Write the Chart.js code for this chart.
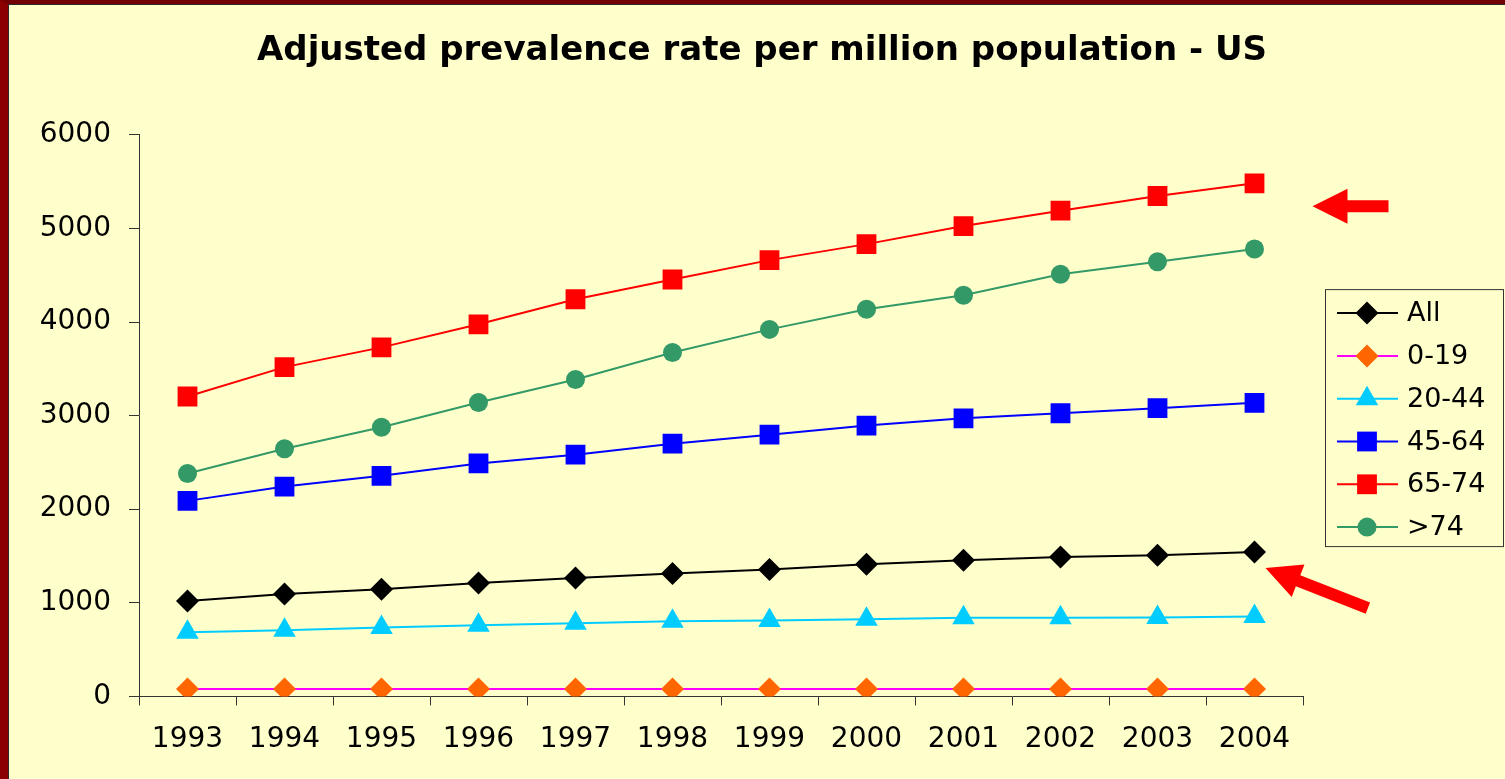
<!DOCTYPE html>
<html>
<head>
<meta charset="utf-8">
<title>Adjusted prevalence rate per million population - US</title>
<script src="https://cdn.jsdelivr.net/npm/chart.js@4.4.1/dist/chart.umd.min.js"></script>
<style>
    html, body {
        margin: 0;
        padding: 0;
        overflow: hidden;
        background: #FFFFCC;
    }
    #frame {
        position: absolute;
        left: 0;
        top: 0;
        width: 1505px;
        height: 779px;
        box-sizing: border-box;
        border-left: 8px solid #8B0000;
        border-top: 4px solid #720000;
    }
    #inner {
        width: 1497px;
        height: 775px;
        box-sizing: border-box;
        border-left: 1px solid #2b2b2b;
        border-top: 1px solid #2b2b2b;
        background: #FFFFCC;
    }
    #box {
        position: relative;
        width: 1496px;
        height: 774px;
    }
</style>
</head>
<body>
<div id="frame"><div id="inner"><div id="box"><canvas id="PrevalenceChart"></canvas></div></div></div>
<script>
const years = ["1993", "1994", "1995", "1996", "1997", "1998", "1999", "2000", "2001", "2002", "2003", "2004"];
const allAges = [1018, 1093, 1146, 1211, 1264, 1314, 1357, 1411, 1454, 1489, 1507, 1543];
const age0to19 = [80, 80, 80, 80, 80, 80, 80, 80, 80, 80, 80, 80];
const age20to44 = [686, 707, 736, 761, 782, 804, 811, 825, 839, 839, 843, 854];
const age45to64 = [2089, 2242, 2357, 2489, 2582, 2700, 2796, 2893, 2971, 3025, 3079, 3136];
const age65to74 = [3204, 3518, 3729, 3975, 4243, 4454, 4661, 4832, 5025, 5189, 5346, 5482];
const age75up = [2382, 2646, 2875, 3139, 3386, 3675, 3921, 4136, 4286, 4511, 4643, 4779];
const yTicks = [0, 1000, 2000, 3000, 4000, 5000, 6000];

const FONT = "'DejaVu Sans', 'Liberation Sans', Arial, sans-serif";

function series(label, data, lineColor, markerColor, pointStyle, radius) {
    return {
        label: label,
        data: data,
        borderColor: lineColor,
        backgroundColor: markerColor,
        borderWidth: 2,
        pointStyle: pointStyle,
        pointRadius: radius,
        pointHoverRadius: radius,
        pointBackgroundColor: markerColor,
        pointBorderColor: markerColor,
        pointBorderWidth: 0,
        fill: false,
        tension: 0,
    };
}

// legend drawn by hand: line with the marker on it, inside a thin box
const lineLegend = {
    id: "lineLegend",
    afterDraw(chart) {
        const ctx = chart.ctx;
        const area = chart.chartArea;
        const left = area.right + 22;
        const right = chart.width - 2;
        const height = 257;
        const top = (area.top + area.bottom) / 2 - height / 2 + 2;
        const step = 42.8;

        ctx.save();
        ctx.strokeStyle = "#333";
        ctx.lineWidth = 1;
        ctx.strokeRect(left + 0.5, top + 0.5, right - left, height);

        ctx.font = "27px " + FONT;
        ctx.textBaseline = "middle";
        ctx.textAlign = "left";

        chart.data.datasets.forEach((ds, i) => {
            const y = top + 24 + i * step;
            ctx.strokeStyle = ds.borderColor;
            ctx.lineWidth = 2;
            ctx.beginPath();
            ctx.moveTo(left + 12, y);
            ctx.lineTo(left + 73, y);
            ctx.stroke();

            ctx.fillStyle = ds.pointBackgroundColor;
            Chart.helpers.drawPoint(ctx, {
                pointStyle: ds.pointStyle,
                radius: ds.pointRadius,
                rotation: 0,
                borderWidth: 0,
            }, left + 42, y);

            ctx.fillStyle = "#000";
            ctx.fillText(ds.label, left + 82, y + 1);
        });
        ctx.restore();
    },
};

// the two red arrows, placed next to the last point of a series
function drawArrow(ctx, tipX, tipY, angle, length) {
    const headLen = 35, headHalf = 17.5, shaftHalf = 6;
    ctx.save();
    ctx.translate(tipX, tipY);
    ctx.rotate(angle);
    ctx.fillStyle = "#FF0000";
    ctx.beginPath();
    ctx.moveTo(0, 0);
    ctx.lineTo(headLen, -headHalf);
    ctx.lineTo(headLen, -shaftHalf);
    ctx.lineTo(length, -shaftHalf);
    ctx.lineTo(length, shaftHalf);
    ctx.lineTo(headLen, shaftHalf);
    ctx.lineTo(headLen, headHalf);
    ctx.closePath();
    ctx.fill();
    ctx.restore();
}

const arrows = {
    id: "arrows",
    afterDatasetsDraw(chart) {
        const ctx = chart.ctx;
        const last = years.length - 1;
        const top = chart.getDatasetMeta(4).data[last];
        const all = chart.getDatasetMeta(0).data[last];
        drawArrow(ctx, top.x + 58, top.y + 23, 0, 76);
        drawArrow(ctx, all.x + 11, all.y + 16, Math.atan2(40, 102), 110);
    },
};

function PrevalenceChart() {
    const ctx = document.getElementById("PrevalenceChart");

    new Chart(ctx, {
        type: "line",
        data: {
            labels: years,
            datasets: [
                series("All", allAges, "#000000", "#000000", "rectRot", 11.5),
                series("0-19", age0to19, "#FF00FF", "#FF6600", "rectRot", 11.5),
                series("20-44", age20to44, "#00CCFF", "#00CCFF", "triangle", 13),
                series("45-64", age45to64, "#0000FF", "#0000FF", "rect", 14),
                series("65-74", age65to74, "#FF0000", "#FF0000", "rect", 14),
                series(">74", age75up, "#339966", "#339966", "circle", 9.5),
            ],
        },
        options: {
            responsive: true,
            maintainAspectRatio: false,
            animation: false,
            layout: {
                padding: { left: 10, right: 0, top: 0, bottom: 4 },
            },
            plugins: {
                legend: { display: false },
                tooltip: { enabled: false },
                title: {
                    display: true,
                    text: "Adjusted prevalence rate per million population - US",
                    color: "#000",
                    font: { family: FONT, size: 34, weight: "bold" },
                    padding: { top: 26, bottom: 63 },
                },
            },
            scales: {
                x: {
                    offset: true,
                    grid: {
                        display: true,
                        drawOnChartArea: false,
                        drawTicks: true,
                        tickLength: 9,
                        color: "#333",
                        offset: true,
                    },
                    border: { display: true, color: "#333", width: 1 },
                    ticks: {
                        color: "#000",
                        font: { family: FONT, size: 28 },
                        padding: 18,
                        maxRotation: 0,
                        autoSkip: false,
                    },
                },
                y: {
                    min: 0,
                    max: 6000,
                    afterBuildTicks(scale) {
                        scale.ticks = yTicks.map((v) => ({ value: v }));
                    },
                    afterFit(scale) {
                        scale.width = 120;
                    },
                    grid: {
                        display: true,
                        drawOnChartArea: false,
                        drawTicks: true,
                        tickLength: 10,
                        color: "#333",
                    },
                    border: { display: true, color: "#333", width: 1 },
                    ticks: {
                        color: "#000",
                        font: { family: FONT, size: 28 },
                        padding: 18,
                        callback: (v) => String(v),
                    },
                },
                // empty right-hand box that keeps room for the legend
                legendRoom: {
                    type: "linear",
                    position: "right",
                    display: true,
                    grid: { display: false },
                    border: { display: false },
                    ticks: { display: false },
                    afterFit(scale) {
                        scale.width = 202;
                    },
                },
            },
        },
        plugins: [lineLegend, arrows],
    });
}

PrevalenceChart();
</script>
</body>
</html>
